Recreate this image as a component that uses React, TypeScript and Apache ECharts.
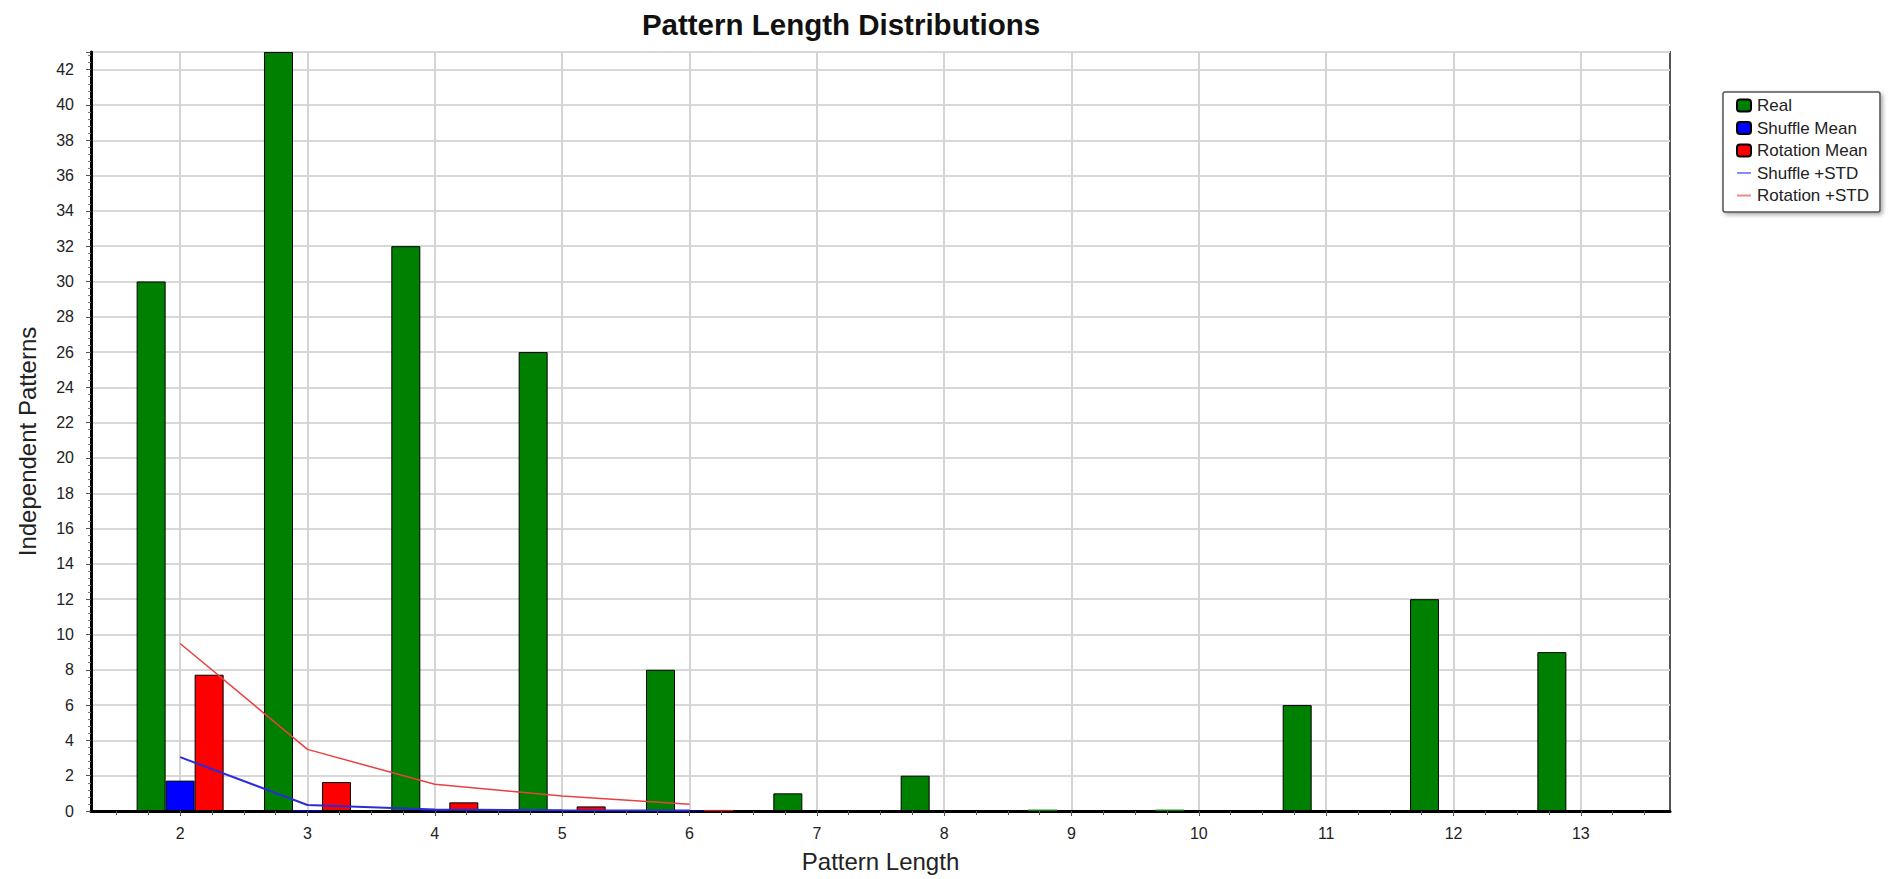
import React, { useEffect, useRef } from "react";
import * as echarts from "echarts";

// ---- data ----
const categories = [2, 3, 4, 5, 6, 7, 8, 9, 10, 11, 12, 13];
const realValues = [30, 43, 32, 26, 8, 1, 2, 0.08, 0.08, 6, 12, 9];
const shuffleMean = [1.72, 0.05, 0.04, 0.04, 0.04, 0, 0, 0, 0, 0, 0, 0];
const rotationMean = [7.72, 1.64, 0.49, 0.26, 0.06, 0, 0, 0, 0, 0, 0, 0];
const shuffleStd = [3.05, 0.34, 0.09, 0.04, 0.03, null, null, null, null, null, null, null];
const rotationStd = [9.49, 3.49, 1.51, 0.85, 0.38, null, null, null, null, null, null, null];
const yMax = 43;
const yInterval = 2;
const xMin = 1.3;
const xMax = 13.7;

const FONT = '"Liberation Sans", Arial, sans-serif';

function barData(vals: number[]) {
  return categories.map((c, i) => {
    const v = vals[i];
    const item: any = { value: [c, v] };
    if (v < 0.15) item.itemStyle = { borderWidth: 0 };
    return item;
  });
}

function lineData(vals: (number | null)[]) {
  const out: any[] = [];
  categories.forEach((c, i) => {
    if (vals[i] !== null) out.push([c, vals[i]]);
  });
  return out;
}

const quarterTicks: number[] = [];
for (let k = 0; ; k++) {
  const v = categories[0] - 0.5 + k * 0.25;
  if (v > categories[categories.length - 1] + 0.5 + 1e-9) break;
  quarterTicks.push(Math.round(v * 100) / 100);
}

export default function App() {
  const ref = useRef<HTMLDivElement>(null);
  useEffect(() => {
    document.body.style.margin = "0";
    const chart = echarts.init(ref.current!, undefined, { renderer: "svg" });
    const barCommon = {
      type: "bar",
      xAxisIndex: 0,
      barWidth: 29,
      barGap: "0%",
      z: 2,
    };
    chart.setOption({
      animation: false,
      backgroundColor: "#ffffff",
      title: {
        text: "Pattern Length Distributions",
        left: 836,
        textAlign: "center",
        top: 4,
        textStyle: { fontSize: 29.5, fontWeight: "bold", color: "#111", fontFamily: FONT },
      },
      legend: {
        orient: "vertical",
        left: 1723,
        top: 92,
        padding: [5, 11, 8, 13],
        itemWidth: 14,
        itemHeight: 12,
        itemGap: 5.5,
        backgroundColor: "#ffffff",
        borderColor: "#555",
        borderWidth: 1.5,
        borderRadius: 2,
        shadowBlur: 4,
        shadowOffsetX: 2,
        shadowOffsetY: 2,
        shadowColor: "rgba(0,0,0,0.35)",
        textStyle: { fontSize: 17, lineHeight: 17, color: "#222", fontFamily: FONT, padding: [0, 0, 0, 1] },
        data: [
          { name: "Real", icon: "roundRect" },
          { name: "Shuffle Mean", icon: "roundRect" },
          { name: "Rotation Mean", icon: "roundRect" },
          { name: "Shuffle +STD", itemStyle: { opacity: 0 }, lineStyle: { color: "#8a8af5", width: 2 } },
          { name: "Rotation +STD", itemStyle: { opacity: 0 }, lineStyle: { color: "#f08a8a", width: 2 } },
        ],
      },
      grid: {
        left: 91,
        right: 232,
        top: 52,
        bottom: 68,
        show: true,
        borderColor: "#555",
        borderWidth: 2,
        backgroundColor: "transparent",
      },
      xAxis: [
        {
          type: "value",
          min: xMin,
          max: xMax,
          position: "bottom",
          name: "Pattern Length",
          nameLocation: "middle",
          nameGap: 38,
          nameTextStyle: { fontSize: 24, color: "#222", fontFamily: FONT },
          axisLine: { show: true, onZero: false, lineStyle: { color: "#000", width: 3 } },
          axisTick: { show: true, customValues: categories, length: 5, lineStyle: { color: "#444" } },
          axisLabel: { customValues: categories, fontSize: 16, color: "#222", margin: 14, fontFamily: FONT },
          splitLine: { show: true, lineStyle: { color: "#d4d4d4", width: 2 } },
        },
        {
          type: "value",
          min: xMin,
          max: xMax,
          position: "bottom",
          offset: 0,
          axisLine: { show: false },
          axisTick: { show: true, customValues: quarterTicks, length: 4, lineStyle: { color: "#555" } },
          axisLabel: { show: false },
          splitLine: { show: false },
        },
      ],
      yAxis: {
        type: "value",
        min: 0,
        max: yMax,
        interval: yInterval,
        name: "Independent Patterns",
        nameLocation: "middle",
        nameGap: 52,
        nameTextStyle: { fontSize: 24, color: "#222", fontFamily: FONT, padding: [0, 20, 0, 0] },
        axisLine: { show: true, lineStyle: { color: "#000", width: 3 } },
        axisTick: { show: true, length: 5, lineStyle: { color: "#555" } },
        minorTick: { show: true, splitNumber: 5, length: 3, lineStyle: { color: "#777" } },
        axisLabel: { fontSize: 16, color: "#222", margin: 17, showMaxLabel: false, fontFamily: FONT },
        splitLine: { show: true, lineStyle: { color: "#d8d8d8", width: 2 } },
      },
      series: [
        {
          ...barCommon,
          name: "Real",
          data: barData(realValues),
          itemStyle: { color: "#008000", borderColor: "#000", borderWidth: 1 },
        },
        {
          ...barCommon,
          name: "Shuffle Mean",
          data: barData(shuffleMean),
          itemStyle: { color: "#0000ff", borderColor: "#000", borderWidth: 1 },
        },
        {
          ...barCommon,
          name: "Rotation Mean",
          data: barData(rotationMean),
          itemStyle: { color: "#ff0000", borderColor: "#000", borderWidth: 1 },
        },
        {
          type: "line",
          name: "Shuffle +STD",
          xAxisIndex: 0,
          data: lineData(shuffleStd),
          symbol: "none",
          z: 4,
          lineStyle: { color: "#2b2bd9", width: 2 },
          itemStyle: { color: "#2b2bd9" },
        },
        {
          type: "line",
          name: "Rotation +STD",
          xAxisIndex: 0,
          data: lineData(rotationStd),
          symbol: "none",
          z: 4,
          lineStyle: { color: "#e84040", width: 1.5 },
          itemStyle: { color: "#e84040" },
        },
      ],
    });
    return () => chart.dispose();
  }, []);
  return <div ref={ref} style={{ width: 1902, height: 879 }} />;
}
